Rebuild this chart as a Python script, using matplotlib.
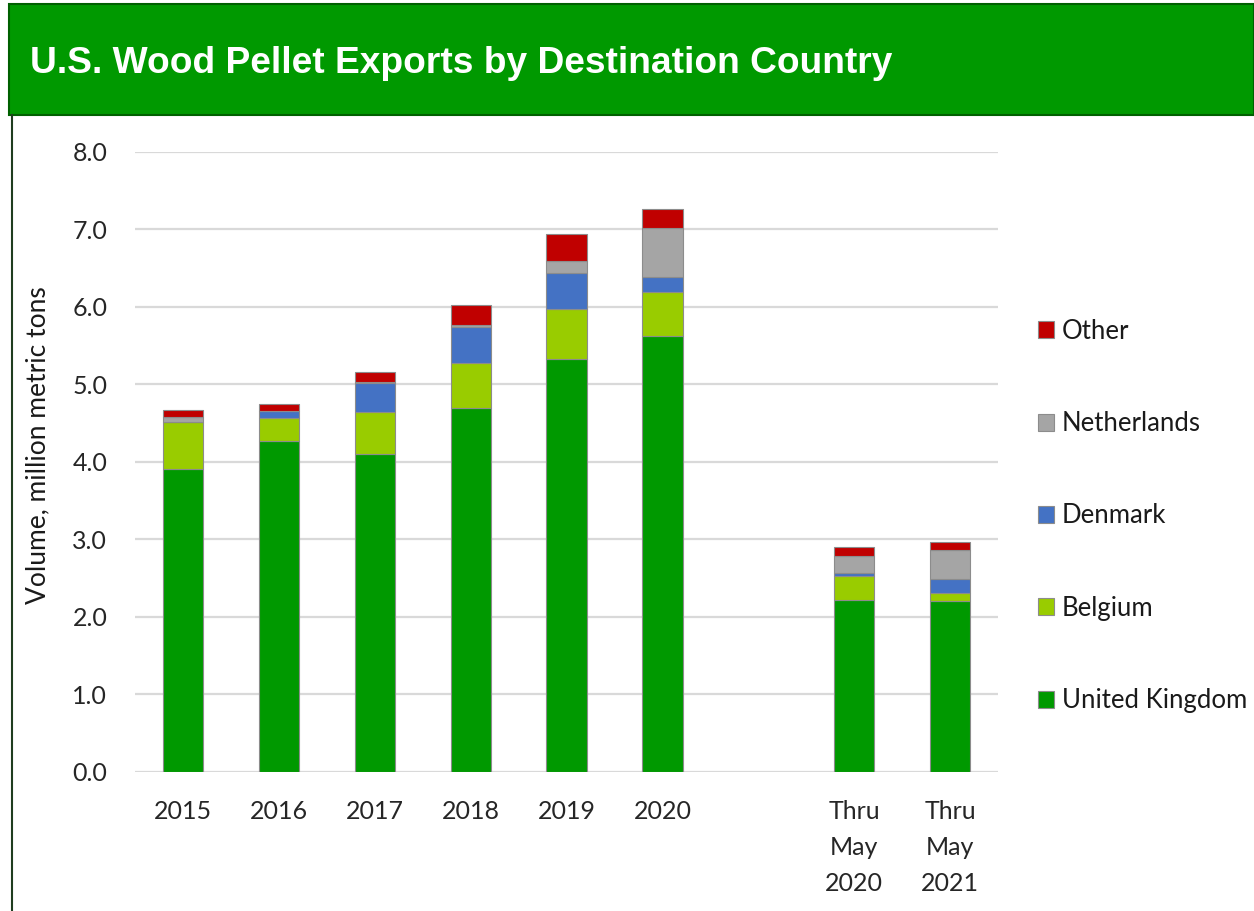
import numpy as np
import matplotlib.pyplot as plt
from matplotlib.patches import Rectangle, Patch
from matplotlib.lines import Line2D

plt.rcParams['font.family'] = ['Lato', 'DejaVu Sans']

categories = ["2015", "2016", "2017", "2018", "2019", "2020", "", "Thru\nMay\n2020", "Thru\nMay\n2021"]
uk = [3.91, 4.27, 4.10, 4.70, 5.33, 5.63, 0, 2.22, 2.21]
belgium = [0.61, 0.30, 0.55, 0.58, 0.64, 0.56, 0, 0.31, 0.10]
denmark = [0.00, 0.09, 0.37, 0.46, 0.47, 0.20, 0, 0.04, 0.18]
netherlands = [0.06, 0.00, 0.01, 0.03, 0.15, 0.63, 0, 0.22, 0.37]
other = [0.09, 0.09, 0.13, 0.26, 0.35, 0.24, 0, 0.11, 0.11]

series = [("United Kingdom", uk, '#009900'),
          ("Belgium", belgium, '#99cc00'),
          ("Denmark", denmark, '#4472c4'),
          ("Netherlands", netherlands, '#a5a5a5'),
          ("Other", other, '#c00000')]

fig = plt.figure(figsize=(12.54, 9.11), dpi=100)

# title band
fig.patches.append(Rectangle((0.007, 0.8738), 0.993, 0.1222, transform=fig.transFigure,
                             facecolor='#009900', edgecolor='#006000', linewidth=1.5, zorder=0))
fig.text(0.024, 0.930, "U.S. Wood Pellet Exports by Destination Country", color='white',
         fontsize=26.7, fontweight='bold', family=['Liberation Sans', 'DejaVu Sans'], va='center')
# left frame line
fig.add_artist(Line2D([0.0095, 0.0095], [0, 0.8738], transform=fig.transFigure,
                      color='#1f3d1f', linewidth=1.5))

ax = fig.add_axes([0.1077, 0.1526, 0.6882, 0.6806])
x = np.arange(len(categories))
bottom = np.zeros(len(categories))
for name, vals, col in series:
    vals = np.array(vals)
    mask = np.arange(len(vals)) != 6
    ax.bar(x[mask], vals[mask], 0.42, bottom=bottom[mask], color=col,
           edgecolor='#8c8c8c', linewidth=0.8, label=name, zorder=3)
    bottom += vals

ax.set_xlim(-0.5, 8.5)
ax.set_ylim(0, 8)
ax.set_yticks(np.arange(0, 8.1, 1))
ax.set_yticklabels([f"{v:.1f}" for v in np.arange(0, 8.1, 1)])
ax.set_xticks(x)
ax.set_xticklabels(categories, linespacing=1.68, va='top')
ax.tick_params(axis='x', length=0, pad=20, labelsize=18, labelcolor='#262626')
ax.tick_params(axis='y', length=0, pad=20, labelsize=18, labelcolor='#262626')
ax.yaxis.grid(True, color='#d9d9d9', linewidth=1.6, zorder=0)
for s in ax.spines.values():
    s.set_visible(False)
ax.set_ylabel("Volume, million metric tons", fontsize=19, color='#1a1a1a')
ax.yaxis.set_label_coords(-0.098, 0.527)

handles = [Patch(facecolor=col, edgecolor='#8c8c8c', linewidth=0.8) for _, _, col in series][::-1]
labels = [name for name, _, _ in series][::-1]
fig.legend(handles, labels, loc='center left', bbox_to_anchor=(0.809, 0.4336), frameon=False,
           fontsize=18.5, labelspacing=2.62, handlelength=0.65, handleheight=0.65, handletextpad=0.3,
           labelcolor='#1a1a1a')

fig.savefig('out.png', dpi=100)
